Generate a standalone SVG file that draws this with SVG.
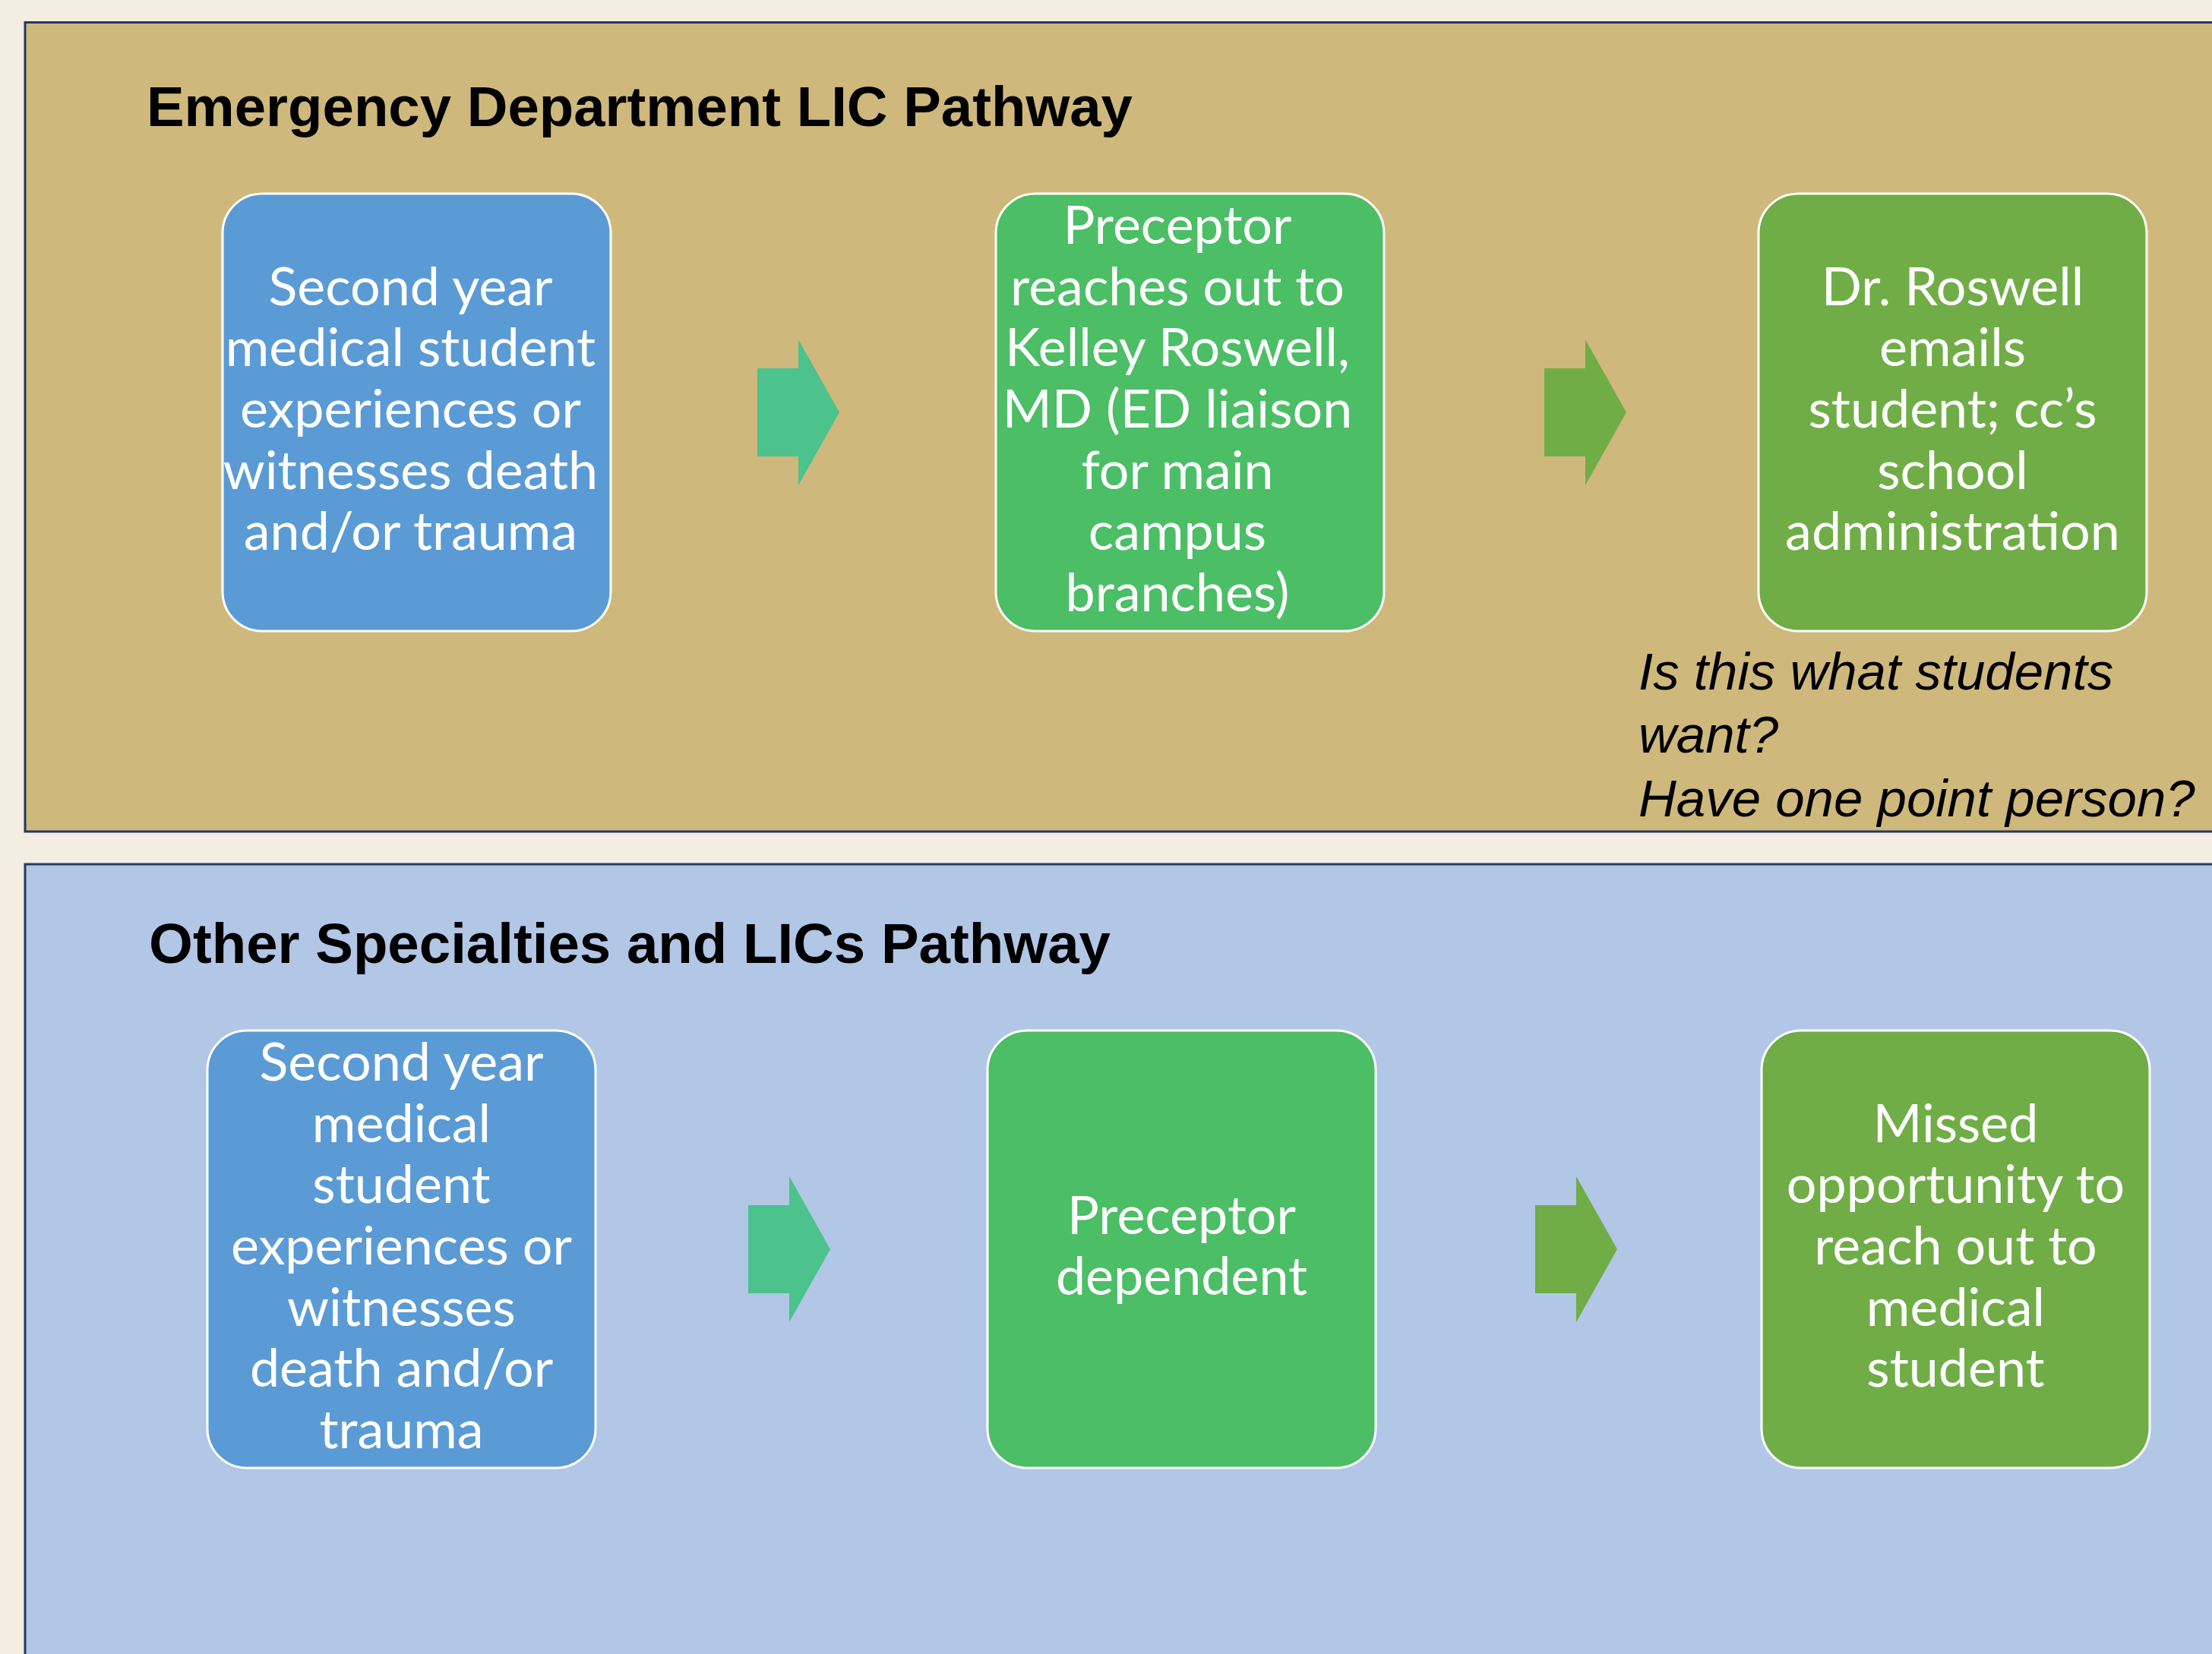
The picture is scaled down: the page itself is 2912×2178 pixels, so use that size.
<svg xmlns="http://www.w3.org/2000/svg" width="2912" height="2178" viewBox="0 0 2912 2178">
<style>
.panel{stroke:#243A5E;stroke-width:3}
.box{stroke:#FFFFFF;stroke-width:3}
.bt{font-family:Lato,"Open Sans",sans-serif;font-size:70px;fill:#FFFFFF;text-anchor:middle}
.title{font-family:"Liberation Sans",Arial,sans-serif;font-weight:bold;font-size:74.5px;fill:#000000}
.note{font-family:"Liberation Sans",Arial,sans-serif;font-style:italic;font-size:69px;fill:#000000}
</style>
<rect x="0" y="0" width="2912" height="2178" fill="#F4EDE2"/>
<g id="panel-ed">
<rect class="panel" x="33" y="29.5" width="2920" height="1065.5" fill="#CEB87C"/>
<text class="title" x="193" y="166" textLength="1298" lengthAdjust="spacingAndGlyphs">Emergency Department LIC Pathway</text>
</g>
<g id="panel-other">
<rect class="panel" x="33" y="1138" width="2920" height="1100" fill="#B2C6E6"/>
<text class="title" x="196" y="1268" textLength="1266" lengthAdjust="spacingAndGlyphs">Other Specialties and LICs Pathway</text>
</g>
<g id="node-ed-student">
<rect class="box" x="293" y="255" width="511" height="576" rx="52" fill="#5B9BD5"/>
<text class="bt"><tspan x="540.5" y="401.6">Second year</tspan><tspan x="540.5" y="482.3">medical student</tspan><tspan x="540.5" y="563">experiences or</tspan><tspan x="540.5" y="643.7">witnesses death</tspan><tspan x="540.5" y="724.4">and/or trauma</tspan></text>
</g>
<g id="node-ed-preceptor">
<rect class="box" x="1311" y="255" width="511" height="576" rx="52" fill="#4BBE66"/>
<text class="bt"><tspan x="1550" y="320.9">Preceptor</tspan><tspan x="1550" y="401.6">reaches out to</tspan><tspan x="1550" y="482.3">Kelley Roswell,</tspan><tspan x="1550" y="563">MD (ED liaison</tspan><tspan x="1550" y="643.7">for main</tspan><tspan x="1550" y="724.4">campus</tspan><tspan x="1550" y="805.1">branches)</tspan></text>
</g>
<g id="node-ed-roswell">
<rect class="box" x="2315" y="255" width="511" height="576" rx="52" fill="#70AD47"/>
<text class="bt"><tspan x="2570.5" y="401.6">Dr. Roswell</tspan><tspan x="2570.5" y="482.3">emails</tspan><tspan x="2570.5" y="563">student; cc’s</tspan><tspan x="2570.5" y="643.7">school</tspan><tspan x="2570.5" y="724.4">administration</tspan></text>
</g>
<g id="note-ed">
<text class="note"><tspan x="2157" y="908">Is this what students</tspan><tspan x="2157" y="991">want?</tspan><tspan x="2157" y="1075">Have one point person?</tspan></text>
</g>
<g id="node-other-student">
<rect class="box" x="273" y="1357" width="511" height="576" rx="52" fill="#5B9BD5"/>
<text class="bt"><tspan x="528.5" y="1422.9">Second year</tspan><tspan x="528.5" y="1503.6">medical</tspan><tspan x="528.5" y="1584.3">student</tspan><tspan x="528.5" y="1665">experiences or</tspan><tspan x="528.5" y="1745.7">witnesses</tspan><tspan x="528.5" y="1826.4">death and/or</tspan><tspan x="528.5" y="1907.1">trauma</tspan></text>
</g>
<g id="node-other-preceptor">
<rect class="box" x="1300" y="1357" width="511" height="576" rx="52" fill="#4BBE66"/>
<text class="bt"><tspan x="1555.5" y="1624.6">Preceptor</tspan><tspan x="1555.5" y="1705.4">dependent</tspan></text>
</g>
<g id="node-other-missed">
<rect class="box" x="2319" y="1357" width="511" height="576" rx="52" fill="#70AD47"/>
<text class="bt"><tspan x="2574.5" y="1503.6">Missed</tspan><tspan x="2574.5" y="1584.3">opportunity to</tspan><tspan x="2574.5" y="1665">reach out to</tspan><tspan x="2574.5" y="1745.7">medical</tspan><tspan x="2574.5" y="1826.4">student</tspan></text>
</g>
<g id="connectors">
<polygon points="997,485 1051,485 1051,447 1105,543 1051,639 1051,601 997,601" fill="#4CC28C"/>
<polygon points="2033,485 2087,485 2087,447 2141,543 2087,639 2087,601 2033,601" fill="#70AD47"/>
<polygon points="985,1587 1039,1587 1039,1549 1093,1645 1039,1741 1039,1703 985,1703" fill="#4CC28C"/>
<polygon points="2021,1587 2075,1587 2075,1549 2129,1645 2075,1741 2075,1703 2021,1703" fill="#70AD47"/>
</g>
</svg>
